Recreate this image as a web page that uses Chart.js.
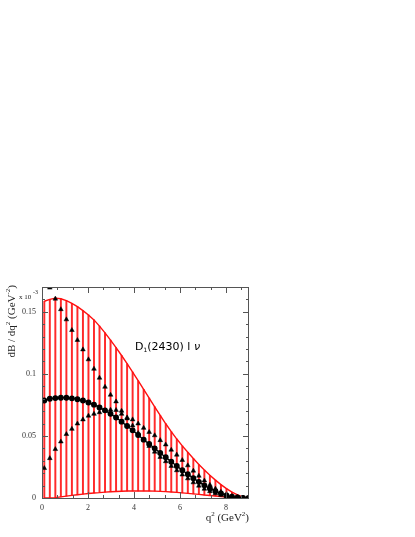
<!DOCTYPE html>
<html>
<head>
<meta charset="utf-8">
<script src="https://cdn.jsdelivr.net/npm/chart.js@4.4.1/dist/chart.umd.min.js"></script>
<style>
  html, body { margin: 0; padding: 0; background: #fff; }
  #wrap { width: 415px; height: 537px; }
</style>
</head>
<body>
<div id="wrap"><canvas id="chartOne" width="415" height="537"></canvas></div>
<script>
// q^2 bin centres (GeV^2)
const q2 = [0.10, 0.34, 0.58, 0.82, 1.06, 1.30, 1.54, 1.78, 2.02, 2.26, 2.50, 2.74, 2.98, 3.22, 3.46, 3.70, 3.94, 4.18, 4.42,
            4.66, 4.90, 5.14, 5.38, 5.62, 5.86, 6.10, 6.34, 6.58, 6.82, 7.06, 7.30, 7.54, 7.78, 8.02, 8.26, 8.50, 8.74, 8.98];
// central prediction (black circles), x 10^-3
const central = [0.0785, 0.0800, 0.0805, 0.0808, 0.0808, 0.0803, 0.0796, 0.0785, 0.0770, 0.0752, 0.0730, 0.0706, 0.0678, 0.0648, 0.0615, 0.0580, 0.0545, 0.0508, 0.0470,
                 0.0435, 0.0400, 0.0363, 0.0328, 0.0292, 0.0258, 0.0224, 0.0191, 0.0160, 0.0130, 0.0102, 0.0077, 0.0055, 0.0036, 0.0021, 0.0010, 0.0004, 0.0001, 0.0000];
// red band edges
const bandHigh = [0.1585, 0.1600, 0.1610, 0.1605, 0.1590, 0.1568, 0.1542, 0.1510, 0.1475, 0.1435, 0.1385, 0.1330, 0.1272, 0.1212, 0.1148, 0.1082, 0.1015, 0.0945, 0.0875,
                  0.0805, 0.0735, 0.0666, 0.0598, 0.0535, 0.0475, 0.0420, 0.0368, 0.0318, 0.0270, 0.0225, 0.0183, 0.0144, 0.0108, 0.0076, 0.0048, 0.0025, 0.0009, 0.0001];
const bandLow = [0.0000, 0.0000, 0.0003, 0.0009, 0.0015, 0.0021, 0.0026, 0.0031, 0.0036, 0.0040, 0.0043, 0.0047, 0.0050, 0.0052, 0.0054, 0.0056, 0.0057, 0.0057, 0.0057,
                 0.0056, 0.0055, 0.0053, 0.0051, 0.0048, 0.0045, 0.0041, 0.0037, 0.0033, 0.0029, 0.0024, 0.0020, 0.0016, 0.0012, 0.0008, 0.0005, 0.0003, 0.0001, 0.0000];
// triangles: one set falling from the top, one rising from the bottom
const triFalling = [0.1780, 0.1694, 0.1605, 0.1520, 0.1438, 0.1352, 0.1272, 0.1196, 0.1116, 0.1040, 0.0968, 0.0895, 0.0831, 0.0777, 0.0702, 0.0640, 0.0583, 0.0523, 0.0470,
                    0.0418, 0.0372, 0.0330, 0.0295, 0.0257, 0.0222, 0.0188, 0.0157, 0.0125, 0.0098, 0.0073, 0.0054, 0.0037, 0.0024, 0.0014, 0.0007, 0.0003, 0.0001, 0.0000];
const triRising = [0.0240, 0.0320, 0.0393, 0.0454, 0.0514, 0.0556, 0.0599, 0.0632, 0.0662, 0.0677, 0.0690, 0.0704, 0.0710, 0.0708, 0.0677, 0.0648, 0.0632, 0.0599, 0.0564,
                   0.0531, 0.0504, 0.0465, 0.0430, 0.0388, 0.0348, 0.0305, 0.0262, 0.0219, 0.0178, 0.0140, 0.0105, 0.0074, 0.0049, 0.0028, 0.0014, 0.0006, 0.0002, 0.0000];

const xMajorTicks = [0, 2, 4, 6, 8];
const xMinorStep = 2 / 3;
const yMajorTicks = [0, 0.05, 0.1, 0.15];
const yTickLabels = ['0', '0.05', '0.1', '0.15'];
const yMinorStep = 0.01;

const pts = (ys) => q2.map((q, i) => ({ x: q, y: ys[i] }));
const serif = '"Liberation Serif", "DejaVu Serif", serif';

// frame, inward tick marks and the extra texts
const decorations = {
  id: 'decorations',
  afterDraw(chart) {
    const { ctx, chartArea: a, scales: { x, y } } = chart;
    ctx.save();
    ctx.strokeStyle = '#555';
    ctx.lineWidth = 1;
    ctx.strokeRect(a.left + 0.5, a.top + 0.5, a.right - a.left - 1, a.bottom - a.top);
    ctx.beginPath();
    for (let v = 0; v <= x.max + 1e-6; v += xMinorStep) {
      const px = Math.round(x.getPixelForValue(v)) + 0.5;
      const len = xMajorTicks.some(t => Math.abs(t - v) < 1e-6) ? 6 : 3;
      ctx.moveTo(px, a.bottom); ctx.lineTo(px, a.bottom - len);
      ctx.moveTo(px, a.top); ctx.lineTo(px, a.top + len);
    }
    for (let v = 0; v <= y.max + 1e-6; v += yMinorStep) {
      const py = Math.round(y.getPixelForValue(v)) + 0.5;
      const len = yMajorTicks.some(t => Math.abs(t - v) < 1e-6) ? 6 : 3;
      ctx.moveTo(a.left, py); ctx.lineTo(a.left + len, py);
      ctx.moveTo(a.right, py); ctx.lineTo(a.right - len, py);
    }
    ctx.stroke();

    ctx.fillStyle = '#222';
    ctx.textBaseline = 'alphabetic';
    // exponent
    ctx.font = '7px ' + serif;
    ctx.textAlign = 'left';
    ctx.fillText('x 10', 19, 299);
    ctx.font = '6px ' + serif;
    ctx.fillText('-3', 33, 294);

    // x title
    const parts = (list, x0, y0) => {
      let cx = x0;
      list.forEach(([t, size, dy]) => {
        ctx.font = size + 'px ' + serif;
        ctx.fillText(t, cx, y0 + dy);
        cx += ctx.measureText(t).width;
      });
      return cx;
    };
    const xTitle = [['q', 11, 0], ['2', 7, -5], [' (GeV', 11, 0], ['2', 7, -5], [')', 11, 0]];
    let w = 0;
    xTitle.forEach(([t, s]) => { ctx.font = s + 'px ' + serif; w += ctx.measureText(t).width; });
    parts(xTitle, a.right - w, 521);

    // y title (rotated)
    const yTitle = [['dB / dq', 11, 0], ['2', 7, -5], [' (GeV', 11, 0], ['-2', 7, -5], [')', 11, 0]];
    w = 0;
    yTitle.forEach(([t, s]) => { ctx.font = s + 'px ' + serif; w += ctx.measureText(t).width; });
    ctx.save();
    ctx.translate(15, 285 + w);
    ctx.rotate(-Math.PI / 2);
    parts(yTitle, 0, 0);
    ctx.restore();

    // process label
    ctx.fillStyle = '#000';
    const sans = '"DejaVu Sans", Verdana, sans-serif';
    ctx.font = '11px ' + sans;
    let cx = 135;
    ctx.fillText('D', cx, 350); cx += ctx.measureText('D').width;
    ctx.font = '6px ' + sans;
    ctx.fillText('1', cx, 352); cx += ctx.measureText('1').width;
    ctx.font = '11px ' + sans;
    ctx.fillText('(2430) l ', cx, 350); cx += ctx.measureText('(2430) l ').width;
    ctx.font = 'italic 11px ' + sans;
    ctx.fillText('\u03bd', cx, 350);
    ctx.restore();
  }
};

const ctx = document.getElementById('chartOne').getContext('2d');
const chartOne = new Chart(ctx, {
  type: 'scatter',
  data: {
    datasets: [
      {
        type: 'scatter', label: 'falling', data: pts(triFalling), order: 0,
        pointStyle: 'triangle', pointRadius: 2.7, backgroundColor: '#000', borderColor: '#000', borderWidth: 0.5
      },
      {
        type: 'scatter', label: 'rising', data: pts(triRising), order: 0,
        pointStyle: 'triangle', pointRadius: 2.7, backgroundColor: '#000', borderColor: '#000', borderWidth: 0.5
      },
      {
        type: 'line', label: 'central', data: pts(central), order: 1,
        borderColor: '#000', borderWidth: 1.3, pointRadius: 2.3, pointBackgroundColor: '#000',
        pointBorderColor: '#000', tension: 0
      },
      {
        type: 'line', label: 'high', data: pts(bandHigh), order: 2,
        borderColor: '#ff1010', borderWidth: 1.4, pointRadius: 0, tension: 0
      },
      {
        type: 'line', label: 'low', data: pts(bandLow), order: 2,
        borderColor: '#ff1010', borderWidth: 1.4, pointRadius: 0, tension: 0
      },
      {
        type: 'bar', label: 'band', order: 3,
        data: q2.map((q, i) => ({ x: q, y: [bandLow[i], bandHigh[i]] })),
        backgroundColor: '#ff2a2a', borderWidth: 0, barThickness: 1.3, grouped: false
      }
    ]
  },
  options: {
    responsive: false,
    animation: false,
    layout: { padding: { top: 287, right: 166, left: 0, bottom: 0 } },
    plugins: { legend: { display: false }, tooltip: { enabled: false } },
    scales: {
      x: {
        type: 'linear', min: 0, max: 9, offset: false,
        grid: { display: false, drawTicks: false }, border: { display: false },
        afterBuildTicks: (s) => { s.ticks = xMajorTicks.map(v => ({ value: v })); },
        afterFit: (s) => { s.height = 39; },
        ticks: { padding: 5, color: '#333', font: { family: serif, size: 8 }, maxRotation: 0 }
      },
      y: {
        type: 'linear', min: 0, max: 0.17,
        grid: { display: false, drawTicks: false }, border: { display: false },
        afterBuildTicks: (s) => { s.ticks = yMajorTicks.map(v => ({ value: v })); },
        afterFit: (s) => { s.width = 42; },
        ticks: {
          padding: 6, color: '#333', font: { family: serif, size: 8 },
          callback: (v) => yTickLabels[yMajorTicks.findIndex(t => Math.abs(t - v) < 1e-9)]
        }
      }
    }
  },
  plugins: [decorations]
});
</script>
</body>
</html>
